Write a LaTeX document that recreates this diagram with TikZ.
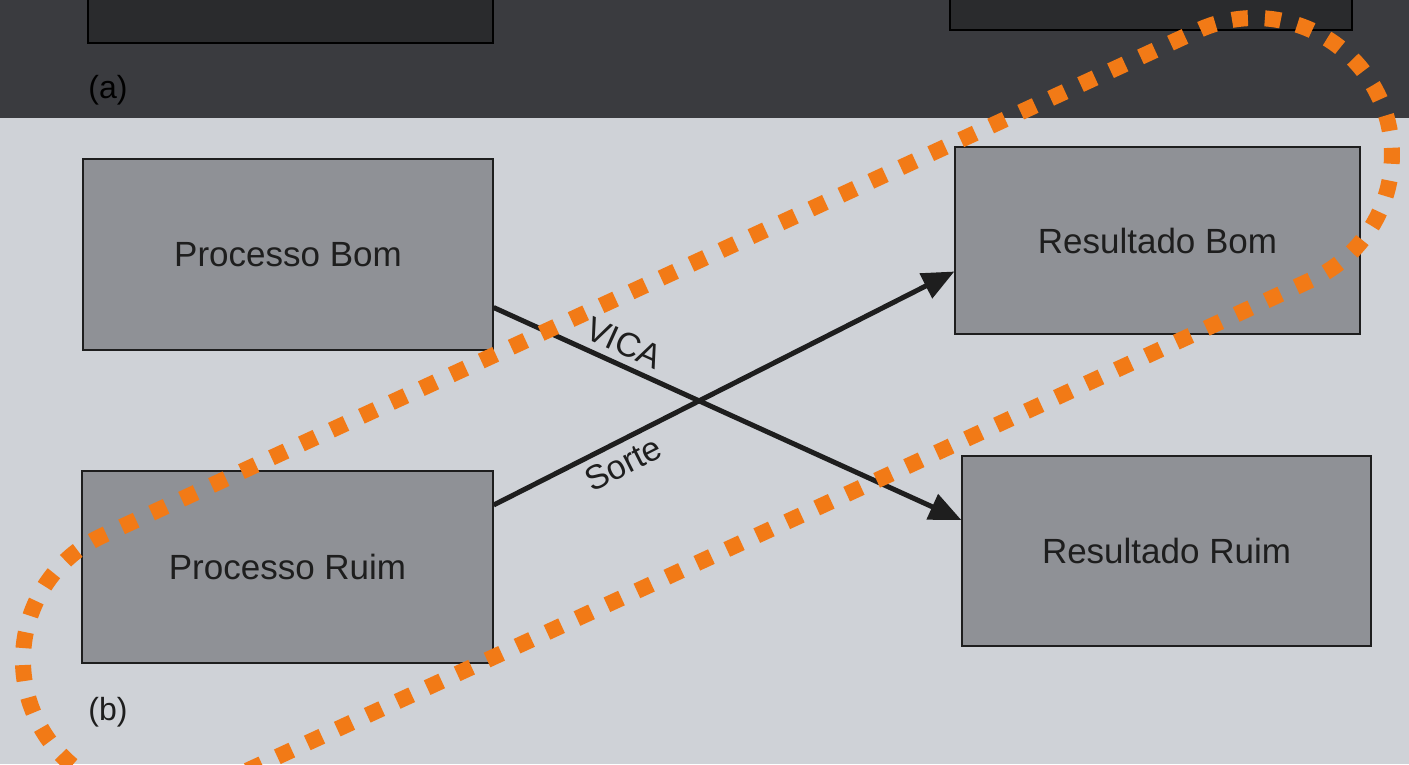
\documentclass[tikz,border=0pt]{standalone}
\usepackage{fontspec}
\setmainfont{Liberation Sans}
\usetikzlibrary{arrows.meta}
\definecolor{bgpaper}{HTML}{CFD2D7}
\definecolor{bgdark}{HTML}{3A3B3F}
\definecolor{boxfill}{HTML}{8F9196}
\definecolor{darkbox}{HTML}{2A2B2D}
\definecolor{ink}{HTML}{1E1E1E}
\definecolor{hl}{HTML}{F27A16}
\begin{document}
\begin{tikzpicture}[x=1pt,y=-1pt,
  procbox/.style={draw=ink, line width=1.3pt, fill=boxfill, inner sep=0pt,
    font=\fontsize{35}{40}\selectfont, text=ink},
  topbox/.style={draw=black, line width=1.3pt, fill=darkbox, inner sep=0pt},
  flow/.style={draw=ink, line width=5pt, -{Triangle[length=32pt,width=27pt]}},
  flowlabel/.style={font=\fontsize{34}{38}\selectfont, text=ink, sloped, inner sep=7pt},
  partlabel/.style={font=\fontsize{32}{36}\selectfont, text=ink},
  highlight/.style={draw=hl, line width=16pt, dash pattern=on 16pt off 17pt}]
\useasboundingbox (0,0) rectangle (1409,764);
\clip (0,0) rectangle (1409,764);
\fill[bgpaper] (0,0) rectangle (1409,764);
\fill[bgdark] (0,0) rectangle (1409,118);

% part (a), cut off at the top
\node[topbox, minimum width=405pt, minimum height=63pt] (ta) at (290.5,11.5) {};
\node[topbox, minimum width=402pt, minimum height=50pt] (tb) at (1151,5) {};
\node[partlabel, text=black] (la) at (108,90) {(a)};

% part (b)
\node[procbox, minimum width=410pt, minimum height=191pt] (PB) at (288,254.5) {Processo Bom};
\node[procbox, minimum width=411pt, minimum height=192pt] (PR) at (287.5,567) {Processo Ruim};
\node[procbox, minimum width=405pt, minimum height=187pt] (RB) at (1157.5,240.5) {Resultado Bom};
\node[procbox, minimum width=409pt, minimum height=190pt] (RR) at (1166.5,551) {Resultado Ruim};
\node[partlabel] (lb) at (108,712) {(b)};

\draw[flow] ([yshift=-53pt]PB.east) -- node[flowlabel, pos=0.26, above] {VICA} ([yshift=31pt]RR.west);
\draw[flow] ([yshift=62pt]PR.east) -- node[flowlabel, pos=0.26, below] {Sorte} ([yshift=-31pt]RB.west);

% orange dotted loop
\begin{scope}[shift={(160pt,-660pt)}, rotate=24.76]
\draw[highlight] (0pt,-137pt) -- (1205.8pt,-137pt)
  arc[start angle=-90, end angle=90, radius=137pt]
  -- (0pt,137pt)
  arc[start angle=90, end angle=270, radius=137pt] -- cycle;
\end{scope}
\end{tikzpicture}
\end{document}
